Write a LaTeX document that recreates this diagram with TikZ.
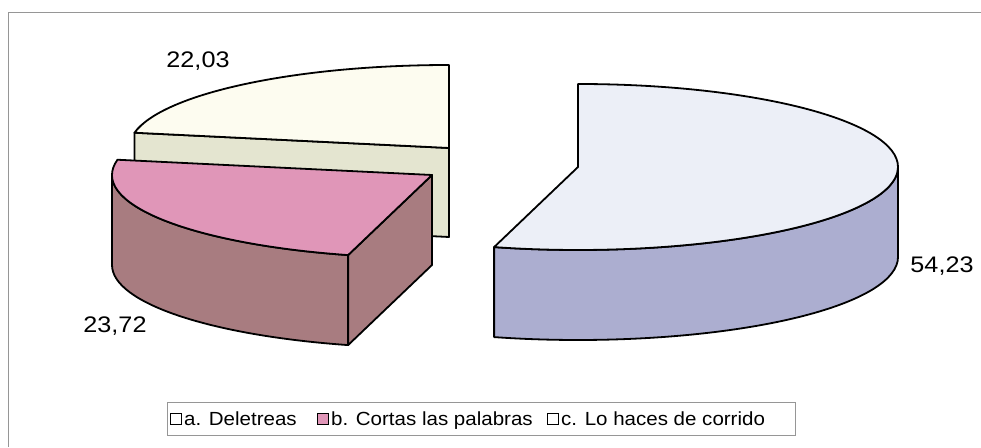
\documentclass[tikz,border=0pt]{standalone}
\usepackage{fontspec}
\setmainfont{Liberation Sans}
\definecolor{bluetop}{RGB}{236,239,247}
\definecolor{blueside}{RGB}{172,174,208}
\definecolor{pinktop}{RGB}{224,150,184}
\definecolor{pinkside}{RGB}{168,124,128}
\definecolor{creamtop}{RGB}{253,252,240}
\definecolor{creamside}{RGB}{228,229,208}
\definecolor{framegray}{RGB}{150,150,150}
\begin{document}
\begin{tikzpicture}[x=1pt,y=1pt,
  pie/.style={draw=black, line width=1.8pt, line join=round},
  rad/.style={x radius=320pt, y radius=83pt},
  vlabel/.style={anchor=base, inner sep=0pt, font=\fontsize{22.5}{26}\selectfont},
  legsq/.style={draw=black, line width=1.6pt, minimum size=11pt, inner sep=0pt},
  legtxt/.style={anchor=base west, inner sep=0pt, font=\fontsize{19}{22}\selectfont}]
\useasboundingbox (0,0) rectangle (981,447);
\fill[white] (0,0) rectangle (981,447);
% frame
\draw[framegray, line width=1pt] (8,0) -- (8,434) -- (981,434);
% centres
\coordinate (B) at (578,280);
\coordinate (P) at (432,272);
\coordinate (C) at (449,299);
% cream slice
\draw[pie, fill=creamside] (C) -- ++(169.4:320pt and 83pt) -- ++(0,-89) -- ([yshift=-89pt]C) -- cycle;
\draw[pie, fill=creamtop] (C) -- ++(169.4:320pt and 83pt) arc[start angle=169.4, end angle=90, rad] -- cycle;
% pink slice
\draw[pie, fill=pinkside] (P) ++(180:320pt and 83pt) arc[start angle=180, end angle=254.8, rad] -- ++(0,-90) arc[start angle=254.8, end angle=180, rad] -- cycle;
\draw[pie, fill=pinkside] (P) -- ++(254.8:320pt and 83pt) -- ++(0,-90) -- ([yshift=-90pt]P) -- cycle;
\draw[pie, fill=pinktop] (P) -- ++(254.8:320pt and 83pt) arc[start angle=254.8, end angle=169.4, rad] -- cycle;
% blue slice
\draw[pie, fill=blueside] (B) ++(0:320pt and 83pt) arc[start angle=0, end angle=-105.2, rad] -- ++(0,-90) arc[start angle=-105.2, end angle=0, rad] -- cycle;
\draw[pie, fill=bluetop] (B) -- ++(90:320pt and 83pt) arc[start angle=90, end angle=-105.2, rad] -- cycle;
% value labels
\node[vlabel] (l1) at (198,379) {\scalebox{1.12}[1]{22,03}};
\node[vlabel] (l2) at (115,114) {\scalebox{1.12}[1]{23,72}};
\node[vlabel] (l3) at (942,174) {\scalebox{1.12}[1]{54,23}};
% legend
\node[draw=framegray, line width=1pt, minimum width=628pt, minimum height=33pt, inner sep=0pt] (leg) at (481,28.5) {};
\node[legsq, fill=white] (sa) at (176,28) {};
\node[legsq, fill=pinktop] (sb) at (323,28) {};
\node[legsq, fill=white] (sc) at (553,28) {};
\node[legtxt] (ta) at (184,21.3) {\scalebox{1.08}[1]{a. Deletreas}};
\node[legtxt] (tb) at (331,21.3) {\scalebox{1.08}[1]{b. Cortas las palabras}};
\node[legtxt] (tc) at (561,21.3) {\scalebox{1.08}[1]{c. Lo haces de corrido}};
\end{tikzpicture}
\end{document}
